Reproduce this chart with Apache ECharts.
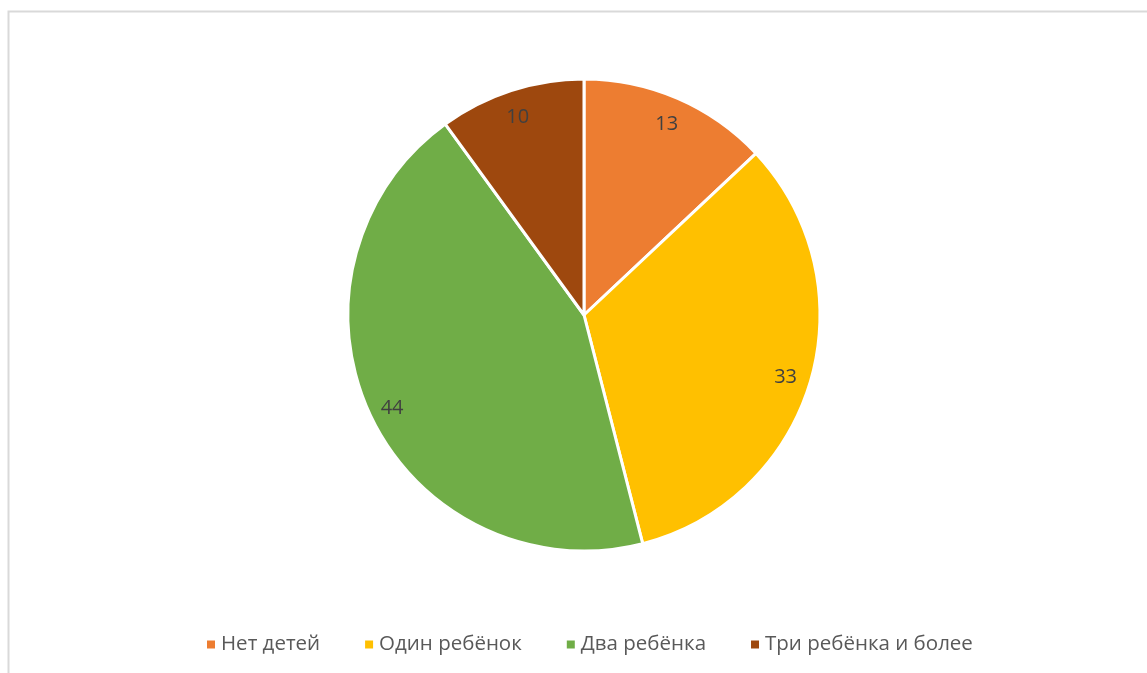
<!DOCTYPE html>
<html>
<head>
<meta charset="utf-8">
<script src="https://cdn.jsdelivr.net/npm/echarts@6/dist/echarts.min.js"></script>
<style>
html,body{margin:0;padding:0;background:#fff;}
#chart{width:1147px;height:673px;}
</style>
</head>
<body>
<div id="chart"></div>
<script>
const categories = ['Нет детей', 'Один ребёнок', 'Два ребёнка', 'Три ребёнка и более'];
const values = [13, 33, 44, 10];
const colors = ['#ED7D31', '#FFC000', '#70AD47', '#9E480E'];

const chart = echarts.init(document.getElementById('chart'), null, {renderer: 'canvas'});
const data = categories.map((c, i) => ({name: c, value: values[i], itemStyle: {color: colors[i]}}));
const labelData = categories.map((c, i) => ({name: c, value: values[i]}));
const FONT = 'Open Sans';
chart.setOption({
  animation: false,
  backgroundColor: '#fff',
  graphic: [{
    type: 'rect', left: 6, top: 9, silent: true,
    shape: {width: 1160, height: 700},
    style: {fill: 'none', stroke: '#D9D9D9', lineWidth: 2}
  }],
  legend: {
    bottom: 13, left: 200,
    itemWidth: 10, itemHeight: 10, itemGap: 43,
    icon: 'rect',
    textStyle: {color: '#595959', fontSize: 20.5, fontFamily: FONT},
    data: categories
  },
  series: [{
    type: 'pie',
    center: [584, 315],
    radius: [0, 236],
    startAngle: 90,
    clockwise: true,
    silent: true,
    label: {show: false},
    labelLine: {show: false},
    itemStyle: {borderColor: '#fff', borderWidth: 3},
    data: data
  }, {
    type: 'pie',
    center: [584, 315],
    radius: [180, 236],
    startAngle: 90,
    clockwise: true,
    silent: true,
    legendHoverLink: false,
    itemStyle: {color: 'rgba(0,0,0,0)'},
    label: {show: true, position: 'inside', color: '#404040', fontSize: 20, fontFamily: FONT, formatter: '{c}', offset: [-1, 3]},
    labelLine: {show: false},
    data: labelData
  }]
});
</script>
</body>
</html>
